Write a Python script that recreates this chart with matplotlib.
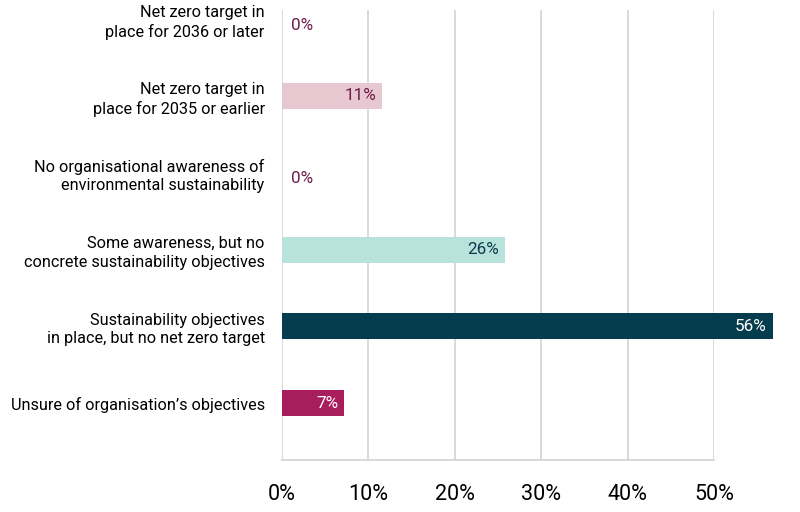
import matplotlib
matplotlib.use("Agg")
import matplotlib.pyplot as plt
from matplotlib.ticker import PercentFormatter
from matplotlib import transforms

# chart data, top to bottom
categories = [
    "Net zero target in\nplace for 2036 or later",
    "Net zero target in\nplace for 2035 or earlier",
    "No organisational awareness of\nenvironmental sustainability",
    "Some awareness, but no\nconcrete sustainability objectives",
    "Sustainability objectives\nin place, but no net zero target",
    "Unsure of organisation\u2019s objectives",
]
values = [0.0, 11.6, 0.0, 25.8, 56.8, 7.2]
labels = ["0%", "11%", "0%", "26%", "56%", "7%"]
bar_colors = ["#E8C8D0", "#E8C8D0", "#B8E2DC", "#B8E2DC", "#063D4E", "#A81D5C"]
text_colors = ["#6B1E4A", "#6B1E4A", "#6B1E4A", "#0B3B4C", "#FFFFFF", "#FFFFFF"]
xticks = [0, 10, 20, 30, 40, 50]

plt.rcParams['font.family'] = ['Roboto', 'DejaVu Sans']

fig = plt.figure(figsize=(8, 5.12), dpi=100)
ax = fig.add_axes([0.3525, 0.1016, 0.54, 0.8789])

pos = list(range(len(categories)))
bars = ax.barh(pos, values, height=0.34, color=bar_colors, zorder=3)
for b in bars:
    b.set_clip_on(False)

ax.set_xlim(0, 50)
ax.set_ylim(5.74, -0.12)

ax.set_xticks(xticks)
ax.xaxis.set_major_formatter(PercentFormatter(decimals=0))
ax.set_yticks(pos)
ax.set_yticklabels(categories, fontsize=11.7, color="#000000", linespacing=1.3)
ax.tick_params(axis='x', labelsize=15.5, length=0, pad=17, colors="#000000")
ax.tick_params(axis='y', length=0, pad=12.5)
ax.grid(axis='x', color="#D0D0D0", linewidth=1.1, zorder=0)

for s in ['top', 'right', 'left']:
    ax.spines[s].set_visible(False)
ax.spines['bottom'].set_color("#D0D0D0")
ax.spines['bottom'].set_linewidth(1.1)

# value labels
for i, (v, lab, tc) in enumerate(zip(values, labels, text_colors)):
    if v == 0:
        off = transforms.offset_copy(ax.transData, fig=fig, x=9, y=-6, units='dots')
        ax.text(v, i, lab, transform=off, ha='left', va='center',
                fontsize=12.3, color=tc, zorder=4, clip_on=False)
    else:
        off = transforms.offset_copy(ax.transData, fig=fig, x=-6, y=0, units='dots')
        ax.text(v, i, lab, transform=off, ha='right', va='center',
                fontsize=12.3, color=tc, zorder=4, clip_on=False)

fig.savefig("out.png", dpi=100)
